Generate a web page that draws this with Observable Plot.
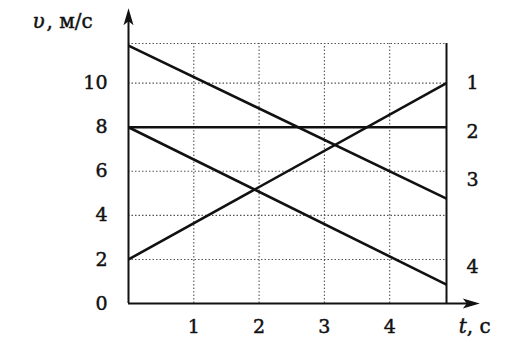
<!DOCTYPE html>
<html>
<head>
<meta charset="utf-8">
<script src="https://cdn.jsdelivr.net/npm/d3@7"></script>
<script src="https://cdn.jsdelivr.net/npm/@observablehq/plot@0.6"></script>
<style>
  body { margin: 0; background: #fff; }
  svg { display: block; }
</style>
</head>
<body>
<div id="chart"></div>
<script>
// ---- data ----
const times = [0, 4.87];            // start and end time of each line, s
const series1 = [2, 10];            // line 1, m/s
const series2 = [8, 8];             // line 2
const series3 = [11.7, 4.76];       // line 3
const series4 = [8, 0.86];          // line 4
const seriesNames = ["1", "2", "3", "4"];
const seriesLabelV = [10, 7.8, 5.6, 1.65];  // where each number sits beside the right edge
const xTicks = [1, 2, 3, 4];
const yTicks = [0, 2, 4, 6, 8, 10];
const yGrid = [2, 4, 6, 8, 10];
const xMax = 4.87, yMax = 11.8;
const xArrowTip = 5.38, yArrowTip = 13.4;

const allSeries = [series1, series2, series3, series4];
const segs = allSeries.map((s, i) => ({name: seriesNames[i], t1: times[0], v1: s[0], t2: times[1], v2: s[1]}));
const labels = seriesNames.map((n, i) => ({name: n, v: seriesLabelV[i]}));

const headUp = {draw(ctx) { ctx.moveTo(0, 0); ctx.lineTo(5, 17); ctx.lineTo(0, 13); ctx.lineTo(-5, 17); ctx.closePath(); }};
const headRight = {draw(ctx) { ctx.moveTo(0, 0); ctx.lineTo(-17, 5); ctx.lineTo(-13, 0); ctx.lineTo(-17, -5); ctx.closePath(); }};

const font = "'DejaVu Serif', serif";
const ink = "#111";
const txt = {fill: ink, stroke: ink, strokeWidth: 0.45, fontSize: 19};

const chart = Plot.plot({
  width: 518, height: 342,
  marginLeft: 128, marginRight: 72, marginTop: 43, marginBottom: 39,
  x: {domain: [0, xMax], axis: null},
  y: {domain: [0, yMax], axis: null},
  style: {fontFamily: font, background: "#fff", color: ink},
  marks: [
    // dotted grid
    Plot.ruleX(xTicks, {y1: 0, y2: yMax, stroke: "#555", strokeWidth: 1.1, strokeDasharray: "1.5,2"}),
    Plot.ruleY(yGrid, {x1: 0, x2: xMax, stroke: "#555", strokeWidth: 1.1, strokeDasharray: "1.5,2"}),
    Plot.ruleY([yMax], {x1: 0, x2: xMax, stroke: "#555", strokeWidth: 1.1, strokeDasharray: "1.5,2"}),
    // right border
    Plot.ruleX([xMax], {y1: 0, y2: yMax, stroke: ink, strokeWidth: 2}),
    // axes
    Plot.ruleY([0], {x1: 0, x2: xArrowTip - 0.15, stroke: ink, strokeWidth: 2}),
    Plot.ruleX([0], {y1: 0, y2: yArrowTip - 0.4, stroke: ink, strokeWidth: 2}),
    Plot.dot([0], {x: 0, y: yArrowTip, symbol: headUp, fill: ink, stroke: "none"}),
    Plot.dot([0], {x: xArrowTip, y: 0, symbol: headRight, fill: ink, stroke: "none"}),
    // lines
    Plot.link(segs, {x1: "t1", y1: "v1", x2: "t2", y2: "v2", stroke: ink, strokeWidth: 2.6}),
    // tick labels
    Plot.text(yTicks, {x: 0, y: d => d, dx: -21, textAnchor: "end", ...txt}),
    Plot.text(xTicks, {x: d => d, y: 0, dy: 23, ...txt}),
    // line numbers
    Plot.text(labels, {x: xMax, y: "v", text: "name", dx: 26, ...txt}),
    // axis titles
    Plot.text(["υ"], {x: 0, y: yArrowTip, dx: -96, dy: 13, textAnchor: "start", ...txt, fontSize: 20, fontStyle: "italic"}),
    Plot.text([", м/с"], {x: 0, y: yArrowTip, dx: -82, dy: 13, textAnchor: "start", ...txt, fontSize: 20}),
    Plot.text(["t"], {x: xArrowTip, y: 0, dx: -21, dy: 23, textAnchor: "start", ...txt, fontSize: 20, fontStyle: "italic"}),
    Plot.text([", с"], {x: xArrowTip, y: 0, dx: -13, dy: 23, textAnchor: "start", ...txt, fontSize: 20})
  ]
});
document.getElementById("chart").appendChild(chart);
</script>
</body>
</html>
